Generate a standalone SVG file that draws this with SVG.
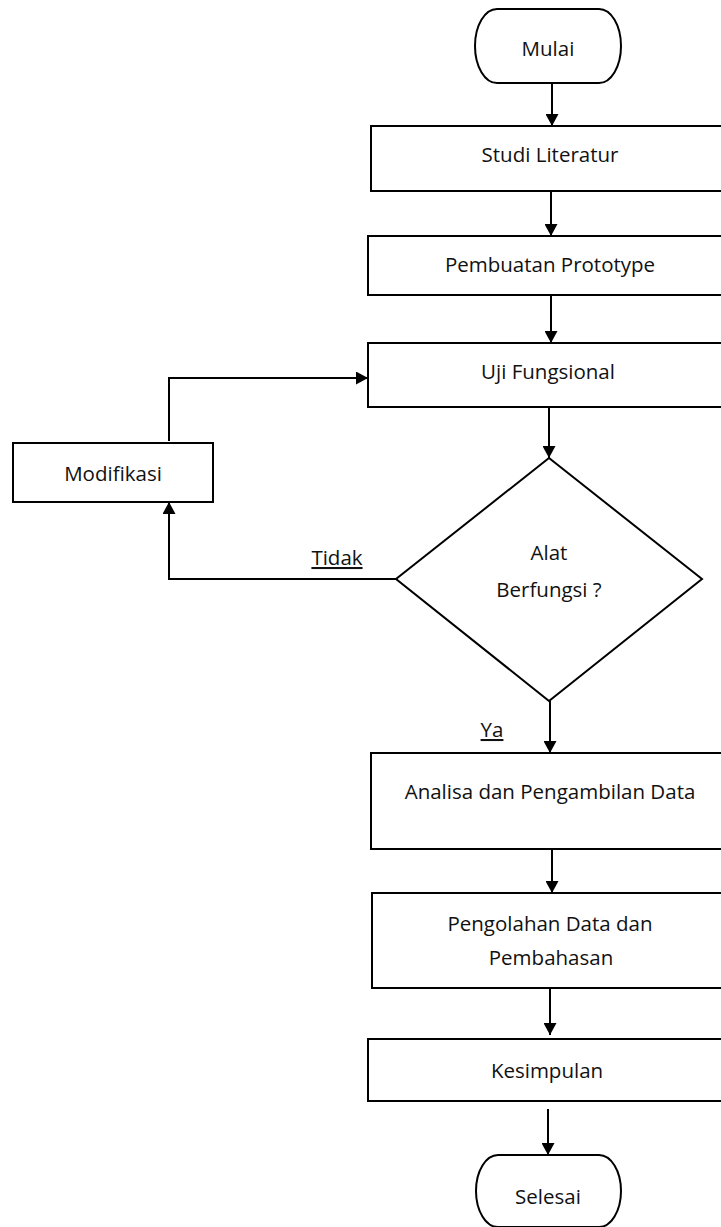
<svg xmlns="http://www.w3.org/2000/svg" width="721" height="1227" viewBox="0 0 721 1227">
  <style>
    .shape { fill: #ffffff; stroke: #000000; stroke-width: 2; }
    .conn { fill: none; stroke: #000000; stroke-width: 2; }
    .lbl { font-family: "Open Sans", "Noto Sans", sans-serif; font-size: 20.5px; fill: #111111; text-anchor: middle; }
    .ul { text-decoration: underline; }
  </style>
  <defs>
    <marker id="arrow" markerUnits="userSpaceOnUse" viewBox="0 0 12 13" refX="12" refY="6.5" markerWidth="12" markerHeight="13" orient="auto">
      <path d="M0,0 L12,6.5 L0,13 z" fill="#000000"/>
    </marker>
  </defs>
  <rect width="721" height="1227" fill="#ffffff"/>

  <g id="connectors">
    <line class="conn" x1="552" y1="83" x2="552" y2="126" marker-end="url(#arrow)"/>
    <line class="conn" x1="551" y1="191" x2="551" y2="236" marker-end="url(#arrow)"/>
    <line class="conn" x1="551" y1="295" x2="551" y2="343" marker-end="url(#arrow)"/>
    <line class="conn" x1="549" y1="407" x2="549" y2="458" marker-end="url(#arrow)"/>
    <line class="conn" x1="550" y1="701" x2="550" y2="753" marker-end="url(#arrow)"/>
    <line class="conn" x1="552" y1="849" x2="552" y2="893" marker-end="url(#arrow)"/>
    <line class="conn" x1="550" y1="988" x2="550" y2="1035" marker-end="url(#arrow)"/>
    <line class="conn" x1="548" y1="1109" x2="548" y2="1155" marker-end="url(#arrow)"/>
    <polyline class="conn" points="396,579 169,579 169,502" marker-end="url(#arrow)"/>
    <polyline class="conn" points="169,441 169,378 368,378" marker-end="url(#arrow)"/>
    <text class="lbl ul" x="337" y="565">Tidak</text>
    <text class="lbl ul" x="492" y="737">Ya</text>
  </g>

  <g id="mulai">
    <rect class="shape" x="475" y="9" width="146" height="74" rx="22" ry="37"/>
    <text class="lbl" x="548" y="56">Mulai</text>
  </g>
  <g id="studi-literatur">
    <rect class="shape" x="371" y="126" width="360" height="65"/>
    <text class="lbl" x="550" y="162">Studi Literatur</text>
  </g>
  <g id="pembuatan-prototype">
    <rect class="shape" x="368" y="236" width="363" height="59"/>
    <text class="lbl" x="550" y="272">Pembuatan Prototype</text>
  </g>
  <g id="uji-fungsional">
    <rect class="shape" x="368" y="343" width="363" height="64"/>
    <text class="lbl" x="548" y="379">Uji Fungsional</text>
  </g>
  <g id="modifikasi">
    <rect class="shape" x="13" y="443" width="200" height="59"/>
    <text class="lbl" x="113" y="481">Modifikasi</text>
  </g>
  <g id="alat-berfungsi">
    <polygon class="shape" points="549,458 702,579 549,701 396,579"/>
    <text class="lbl" x="549" y="560">Alat</text>
    <text class="lbl" x="549" y="597">Berfungsi ?</text>
  </g>
  <g id="analisa">
    <rect class="shape" x="371" y="753" width="360" height="96"/>
    <text class="lbl" x="550" y="799">Analisa dan Pengambilan Data</text>
  </g>
  <g id="pengolahan">
    <rect class="shape" x="372" y="893" width="359" height="95"/>
    <text class="lbl" x="550" y="931">Pengolahan Data dan</text>
    <text class="lbl" x="551" y="965">Pembahasan</text>
  </g>
  <g id="kesimpulan">
    <rect class="shape" x="368" y="1039" width="363" height="62"/>
    <text class="lbl" x="547" y="1078">Kesimpulan</text>
  </g>
  <g id="selesai">
    <rect class="shape" x="476" y="1155" width="145" height="72" rx="22" ry="36"/>
    <text class="lbl" x="548" y="1204">Selesai</text>
  </g>
</svg>
